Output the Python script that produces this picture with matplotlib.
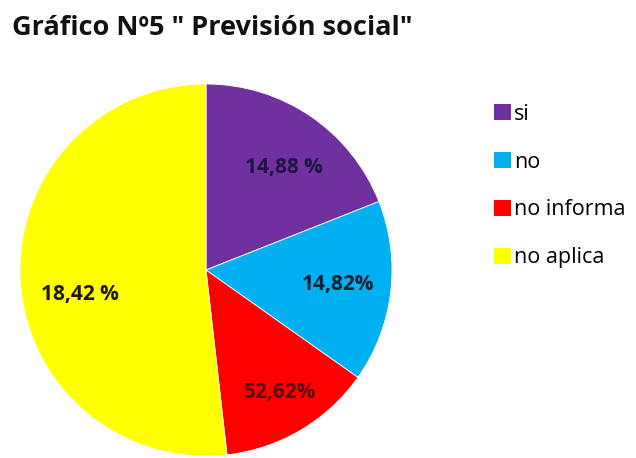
import matplotlib
matplotlib.use("Agg")
import matplotlib.pyplot as plt
from matplotlib.patches import Patch

plt.rcParams['font.family'] = ['Open Sans', 'DejaVu Sans']

# data
categorias = ["si", "no", "no informa", "no aplica"]
valores = [19.0, 15.8, 13.4, 51.8]          # slice sizes
etiquetas = ["14,88 %", "14,82%", "52,62%", "18,42 %"]  # labels as printed
colores = ["#7030A0", "#00B0F0", "#FF0000", "#FFFF00"]
color_texto = ["#1b1640", "#0b2236", "#5c0a0a", "#1a1a00"]
pos_texto = [(0.42, 0.55), (0.71, -0.08), (0.40, -0.66), (-0.68, -0.13)]

W, H = 636, 458
fig = plt.figure(figsize=(W / 100, H / 100), dpi=100)

cx, cy, r = 206, 270, 186
ax = fig.add_axes([(cx - r) / W, (H - cy - r) / H, 2 * r / W, 2 * r / H])
ax.pie(valores, colors=colores, startangle=90, counterclock=False,
       radius=1, wedgeprops=dict(linewidth=0.6, edgecolor="white"))
ax.set_xlim(-1, 1)
ax.set_ylim(-1, 1)
ax.set_aspect("equal")
ax.axis("off")

for txt, (x, y), c in zip(etiquetas, pos_texto, color_texto):
    ax.text(x, y, txt, ha="center", va="center", fontsize=15,
            fontweight="bold", color=c)

fig.text(12 / W, 1 - 28 / H, 'Gráfico Nº5 " Previsión social"',
         fontsize=19.5, fontweight="bold", ha="left", va="center",
         color="#111111")

handles = [Patch(facecolor=c, edgecolor="none") for c in colores]
fig.legend(handles, categorias, loc="upper left",
           bbox_to_anchor=(485 / W, 1 - 95 / H), frameon=False,
           fontsize=15.5, handlelength=0.8, handleheight=0.8,
           handletextpad=0.15, labelspacing=1.25, borderaxespad=0)

fig.savefig("out.png", dpi=100, facecolor="white")
